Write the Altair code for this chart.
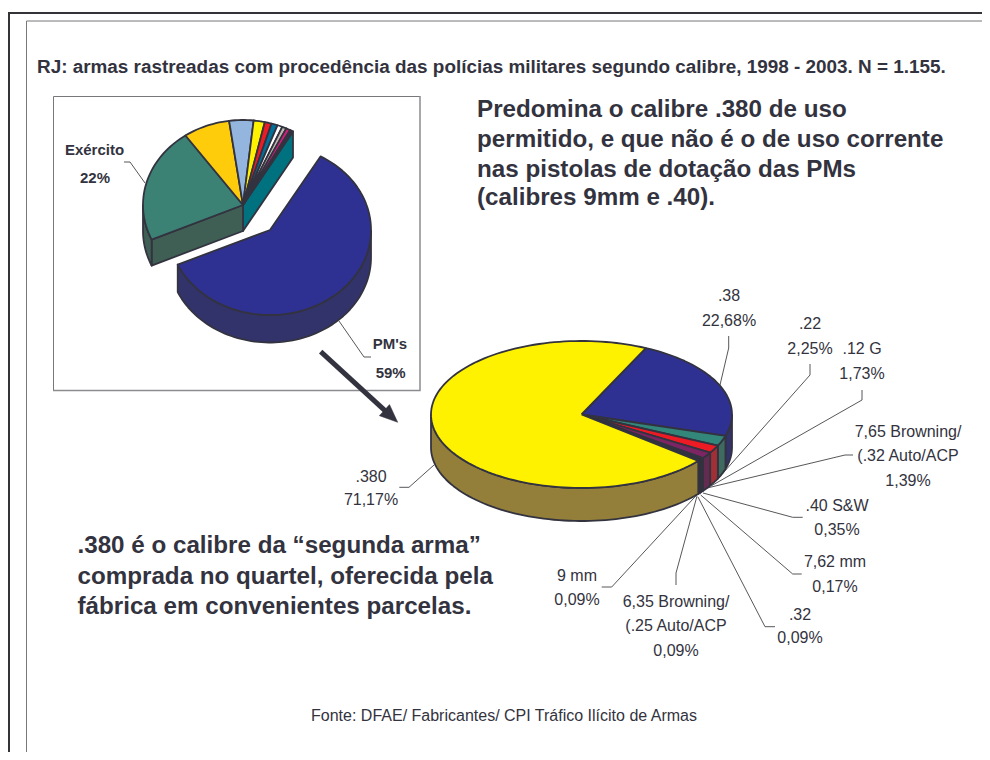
import math
import altair as alt
import pandas as pd

# ---------- data ----------
TITLE = "RJ: armas rastreadas com procedência das polícias militares segundo calibre, 1998 - 2003. N = 1.155."
HEADER = ["Predomina o calibre .380 de uso",
          "permitido, e que não é o de uso corrente",
          "nas pistolas de dotação das PMs",
          "(calibres 9mm e .40)."]
NOTE = ["\u002e380 é o calibre da “segunda arma”",
        "comprada no quartel, oferecida pela",
        "fábrica em convenientes parcelas."]
SOURCE = "Fonte: DFAE/ Fabricantes/ CPI Tráfico Ilícito de Armas"

CAL_NAMES = [[".38"], [".22"], [".12 G"], ["7,65 Browning/", "(.32 Auto/ACP"], [".40 S&W"], ["7,62 mm"],
             [".32"], ["6,35 Browning/", "(.25 Auto/ACP"], ["9 mm"], [".380"]]
CAL_VALUES = [22.68, 2.25, 1.73, 1.39, 0.35, 0.17, 0.09, 0.09, 0.09, 71.17]
CAL_TOP = ["#2e3192", "#33867a", "#ed1c24", "#7d2463", "#333340", "#333340", "#333340", "#333340", "#333340", "#fff200"]
CAL_SIDE = ["#33336b", "#3f6a5f", "#a12f36", "#622c50", "#333340", "#333340", "#333340", "#333340", "#333340", "#947f3a"]

ORG_NAMES = ["PM's", "Exército"]
ORG_VALUES = [59.7, 21.8, 7.5, 3.9, 1.8, 1.1, 1.0, 0.8, 0.7, 0.7, 0.5]
ORG_TOP = ["#2e3192", "#3b8275", "#ffcc0c", "#94b6de", "#fff200", "#ed1c24", "#00709a", "#ffffff", "#c0b8b0", "#cc1f7a", "#333340"]
ORG_SIDE = ["#33336b", "#3f5f54"]
CUT_TEAL = "#00717e"
INK = "#333340"

# ---------- layout ----------
W, H = 974, 744
OX, OY = 8, 8
xs = alt.Scale(domain=[OX, OX + W], range=[0, W], zero=False, nice=False)
ys = alt.Scale(domain=[OY, OY + H], range=[0, H], zero=False, nice=False)
X = alt.X("x:Q", scale=xs, axis=None)
Y = alt.Y("y:Q", scale=ys, axis=None)


def arc(cx, cy, rx, ry, a0, a1):
    n = max(2, int(abs(a1 - a0) / 2) + 2)
    return [(cx + rx * math.sin(math.radians(a0 + (a1 - a0) * k / (n - 1))),
             cy - ry * math.cos(math.radians(a0 + (a1 - a0) * k / (n - 1)))) for k in range(n)]


def side(cx, cy, rx, ry, d, a0, a1):
    out = []
    for lo, hi in ((90, 270), (450, 630)):
        s, e = max(a0, lo), min(a1, hi)
        if e > s:
            top = arc(cx, cy, rx, ry, s, e)
            low = [(x, y + d) for x, y in reversed(top)]
            out.append(top + low)
    return out


polys = []  # (points, fill)


def add(points, fill):
    polys.append((points + [points[0]], fill))


def pie_angles(values, start):
    total = sum(values)
    out, a = [], start
    for v in values:
        b = a + 360 * v / total
        out.append((a, b))
        a = b
    return out


# small inset pie: the PM slice is pulled out of the rest
C1 = (243, 205, 100, 85, 26)
C2 = (270, 230, 101, 85, 27.5)
org = pie_angles(ORG_VALUES, 30)
a0, a1 = org[0]
cx, cy, rx, ry, d = C1
e0 = arc(cx, cy, rx, ry, org[1][0], org[1][0])[0]
e1 = arc(cx, cy, rx, ry, 30, 30)[0]
add([(cx, cy), e1, (e1[0], e1[1] + d), (cx, cy + d)], CUT_TEAL)
add([(cx, cy), e0, (e0[0], e0[1] + d), (cx, cy + d)], ORG_SIDE[1])
for p in side(cx, cy, rx, ry, d, org[1][0], org[1][1]):
    add(p, ORG_SIDE[1])
for (a, b), col in list(zip(org, ORG_TOP))[1:]:
    add([(cx, cy)] + arc(cx, cy, rx, ry, a, b), col)
cx, cy, rx, ry, d = C2
for p in side(cx, cy, rx, ry, d, a0, a1):
    add(p, ORG_SIDE[0])
add([(cx, cy)] + arc(cx, cy, rx, ry, a0, a1), ORG_TOP[0])

# main pie
C3 = (581.5, 414.5, 150.5, 73.5, 33)
cx, cy, rx, ry, d = C3
cal = pie_angles(CAL_VALUES, 25.3)
for (a, b), t, s in zip(cal, CAL_TOP, CAL_SIDE):
    for p in side(cx, cy, rx, ry, d, a, b):
        add(p, s)
for (a, b), t in zip(cal, CAL_TOP):
    add([(cx, cy)] + arc(cx, cy, rx, ry, a, b), t)


def fills(items, width):
    rows = []
    for pid, (pts, col) in enumerate(items):
        for i, (x, y) in enumerate(pts):
            rows.append({"x": x, "y": y, "p": pid, "i": i, "c": col})
    return alt.Chart(pd.DataFrame(rows)).mark_line(
        stroke=INK, strokeWidth=width, strokeJoin="round", interpolate="linear", clip=False
    ).encode(x=X, y=Y, detail="p:N", order="i:Q", fill=alt.Fill("c:N", scale=None, legend=None))


def strokes(paths, color, width, cap="butt"):
    rows = []
    for pid, pts in enumerate(paths):
        for i, (x, y) in enumerate(pts):
            rows.append({"x": x, "y": y, "p": pid, "i": i})
    return alt.Chart(pd.DataFrame(rows)).mark_line(
        color=color, strokeWidth=width, strokeCap=cap
    ).encode(x=X, y=Y, detail="p:N", order="i:Q")


def texts(items, font, size, bold=False, align="center", color=INK):
    df = pd.DataFrame(items, columns=["t", "x", "y"])
    return alt.Chart(df).mark_text(
        font=font, fontSize=size, fontWeight="bold" if bold else "normal",
        align=align, baseline="alphabetic", color=color
    ).encode(x=X, y=Y, text="t:N")


frames = [
    strokes([[(9, OY + H), (9, 13), (OX + W, 13)]], "#333338", 2),
    strokes([[(26.5, OY + H), (26.5, 21), (OX + W, 21)]], "#77777c", 1),
    strokes([[(53.5, 391), (53.5, 96.5), (420, 96.5)]], "#77777c", 1),
    strokes([[(53, 390.5), (420, 390.5), (420, 96)]], "#8c8c90", 1.5),
]

leaders = strokes([
    [(124, 162), (130, 162), (145, 183)],
    [(371, 357), (364, 357), (339, 321)],
    [(399.3, 487.3), (409, 487.3), (434, 465)],
    [(728.7, 336), (728.7, 348), (720, 385)],
    [(810, 364), (810, 375), (716, 481)],
    [(862, 390), (862, 400), (711, 486)],
    [(853, 455), (845, 455), (703, 489)],
    [(802.7, 517.3), (792.7, 517.3), (703, 493)],
    [(801.7, 574), (792.7, 574), (700.7, 495)],
    [(775, 626.7), (765, 626.7), (698, 497)],
    [(676, 585), (676, 573), (697, 496)],
    [(601.7, 587), (611.7, 587), (696.7, 495)],
], "#444448", 0.9)

# arrow between the two pies
ax0, ay0, ax1, ay1 = 320.7, 351.7, 397.7, 422.3
ux, uy = (ax1 - ax0) / math.hypot(ax1 - ax0, ay1 - ay0), (ay1 - ay0) / math.hypot(ax1 - ax0, ay1 - ay0)
bx, by = ax1 - 15 * ux, ay1 - 15 * uy
arrow_shaft = strokes([[(ax0, ay0), (bx, by)]], INK, 5)
arrow_head = fills([([(ax1, ay1), (bx - 7.5 * uy - 3 * ux, by + 7.5 * ux - 3 * uy),
                      (bx + 7.5 * uy - 3 * ux, by - 7.5 * ux - 3 * uy), (ax1, ay1)], INK)], 0.5)

SANS = "Liberation Sans"


def pct(v):
    return f"{v:.2f}%".replace(".", ",")


LABEL_POS = [  # baseline of each name line, then of the value line
    (729, [301], 326), (810, [329], 354), (862, [354], 379), (908, [437, 461], 486),
    (837, [511], 535), (835, [567], 592), (800, [620], 643), (676, [607, 631], 656),
    (577, [581], 605), (371, [482], 505),
]
lab = []
for names, v, (x, bases, vy) in zip(CAL_NAMES, CAL_VALUES, LABEL_POS):
    for n, b in zip(names, bases):
        lab.append((n, x, b))
    lab.append((pct(v), x, vy))

layers = frames + [leaders, fills(polys, 1.8), arrow_shaft, arrow_head]
layers += [
    texts(lab, SANS, 16),
    texts([(ORG_NAMES[1], 94.5, 155), ("22%", 95, 182.7), (ORG_NAMES[0], 390, 349.3), ("59%", 390.7, 377.7)],
          SANS, 15, bold=True),
    texts([(TITLE, 37, 72.5)], SANS, 18.9, bold=True, align="left"),
    texts(list(zip(HEADER, [477] * 4, [116.7, 147.3, 177.3, 205])), SANS, 24.2, bold=True, align="left"),
    texts(list(zip(NOTE, [77.5] * 3, [553, 584, 614])), SANS, 24.2, bold=True, align="left"),
    texts([(SOURCE, 504, 721)], SANS, 16),
]

chart = alt.layer(*layers).properties(
    width=W, height=H, padding=0, autosize=alt.AutoSizeParams(type="none"), background="#ffffff"
).configure_view(stroke=None)

chart.save("out.html", embed_options={"renderer": "svg", "actions": False})
